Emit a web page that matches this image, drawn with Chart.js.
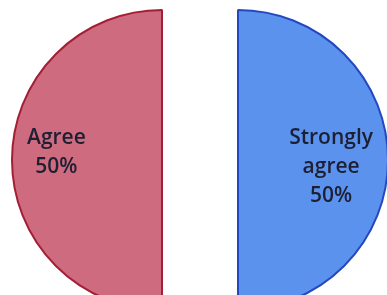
<!DOCTYPE html>
<html>
<head>
<meta charset="utf-8">
<script src="https://cdn.jsdelivr.net/npm/chart.js@4"></script>
<style>
    html, body { margin: 0; padding: 0; background: #fff; overflow: hidden; width: 387px; height: 295px; }
    .half { position: absolute; top: 0; width: 160px; height: 320px; }
    #leftHalf { left: 7px; }
    #rightHalf { left: 233px; }
</style>
</head>
<body>
<div class="half" id="leftHalf"><canvas id="agreeChart" width="160" height="320"></canvas></div>
<div class="half" id="rightHalf"><canvas id="strongChart" width="160" height="320"></canvas></div>
<script>
// slices in clockwise order from 12 o'clock
const categories = ["Strongly agree", "Agree"];
const labelLines = [["Strongly", "agree"], ["Agree"]];
const shares = [50, 50];

const fills = ["#5b92ee", "#cf6b7e"];
const edges = ["#2448c0", "#a31f36"];

const total = shares.reduce((a, b) => a + b, 0);

// label block sits just inside the rim, first line a bit above centre
const labelPlugin = {
    id: "sliceLabel",
    afterDatasetsDraw(chart) {
        const i = chart.options.sliceIndex;
        const arc = chart.getDatasetMeta(0).data[0];
        const mid = (arc.startAngle + arc.endAngle) / 2;
        const lines = labelLines[i].concat([Math.round(shares[i] / total * 100) + "%"]);
        const ctx = chart.ctx;
        ctx.save();
        ctx.font = "600 21px 'Open Sans'";
        ctx.fillStyle = "#1d1f33";
        ctx.textAlign = "center";
        ctx.textBaseline = "middle";
        const w = Math.max(...lines.map(t => ctx.measureText(t).width));
        const r = arc.outerRadius * 0.9 - w / 2;
        const x = arc.x + Math.cos(mid) * r;
        const y0 = arc.y - 22;
        const lh = 29;
        lines.forEach((t, k) => ctx.fillText(t, x, y0 + k * lh));
        ctx.restore();
    }
};

// each slice is its own half pie so the split stays a straight line
function makeSlice(canvasId, i) {
    let start = 0;
    for (let k = 0; k < i; k++) start += shares[k] / total * 360;
    const sweep = shares[i] / total * 360;

    return new Chart(document.getElementById(canvasId).getContext("2d"), {
        type: "pie",
        data: {
            labels: [categories[i]],
            datasets: [{
                data: [shares[i]],
                backgroundColor: fills[i],
                borderColor: edges[i],
                borderWidth: 2,
                radius: 150,
                rotation: start,
                circumference: sweep,
                clip: false
            }]
        },
        options: {
            sliceIndex: i,
            responsive: false,
            animation: false,
            layout: { padding: 0 },
            plugins: {
                legend: { display: false },
                tooltip: { enabled: false }
            }
        },
        plugins: [labelPlugin]
    });
}

makeSlice("strongChart", 0);
makeSlice("agreeChart", 1);
</script>
</body>
</html>
